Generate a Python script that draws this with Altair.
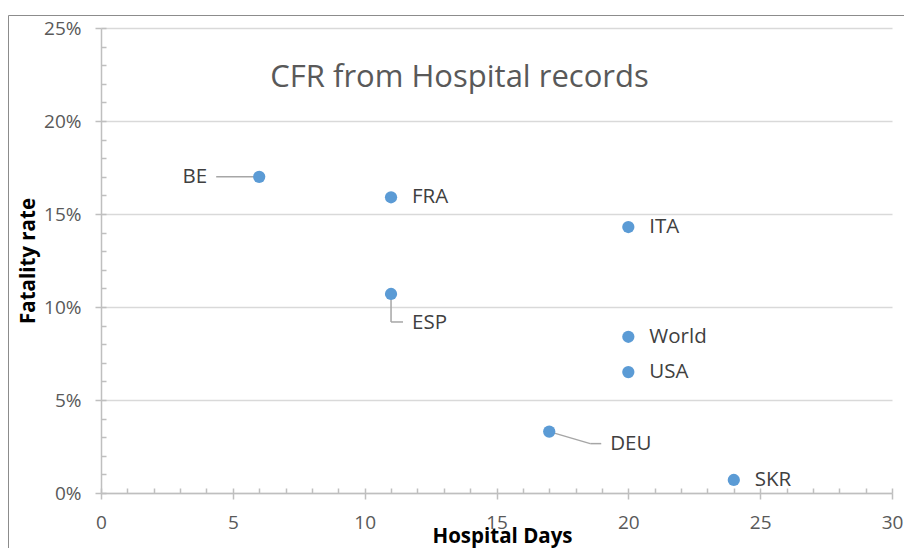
import altair as alt
import pandas as pd

countries = ["BE", "FRA", "ITA", "ESP", "World", "USA", "DEU", "SKR"]
hospital_days = [6, 11, 20, 11, 20, 20, 17, 24]
fatality_rate = [0.170, 0.159, 0.143, 0.107, 0.084, 0.065, 0.033, 0.007]
x_major = [0, 5, 10, 15, 20, 25, 30]
x_minor = list(range(0, 31))
y_major = [0, 0.05, 0.10, 0.15, 0.20, 0.25]
y_minor = [i / 100 for i in range(0, 26)]
chart_title = ["CFR from Hospital records"]

df = pd.DataFrame({"country": countries, "days": hospital_days, "cfr": fatality_rate})
title_df = pd.DataFrame({"t": chart_title})
frame_df = pd.DataFrame({"k": [0]})

FONT = "Open Sans"
AX = "#BFBFBF"
LAB = "#595959"
DL = "#404040"
LEAD = "#A6A6A6"

xs = alt.Scale(domain=[0, 30], nice=False, zero=False)
ys = alt.Scale(domain=[0, 0.25], nice=False, zero=False)

base = alt.Chart(df)

x_axis = alt.Axis(orient="bottom", values=x_major, grid=False, domainColor=AX, domainWidth=1.5,
                  tickColor=AX, tickWidth=1.5, tickSize=6, labelFont=FONT,
                  labelFontSize=19, labelColor=LAB, labelPadding=14, labelFlush=False,
                  title="Hospital Days", titleFont=FONT, titleFontSize=20.5,
                  titleFontWeight="bold", titleColor="#000000",
                  titleBaseline="alphabetic", titleX=401, titleY=49)
y_axis = alt.Axis(orient="left", values=y_major, format=".0%", grid=True, gridColor="#D9D9D9",
                  gridWidth=1.5, domainColor=AX, domainWidth=1.5, tickColor=AX,
                  tickWidth=1.5, tickSize=6, labelFont=FONT, labelFontSize=19,
                  labelColor=LAB, labelPadding=14, labelFlush=False, title="Fatality rate",
                  titleFont=FONT, titleFontSize=20.5, titleFontWeight="bold",
                  titleColor="#000000", titleBaseline="alphabetic",
                  titleAngle=270, titleX=-67, titleY=232.5, titleAlign="center")

x_minor_axis = alt.Axis(values=x_minor, orient="bottom", offset=-5, grid=False,
                        domain=False, labels=False, tickColor=AX, tickWidth=1.5,
                        tickSize=5, title=None)
y_minor_axis = alt.Axis(values=y_minor, orient="left", offset=-5, grid=False,
                        domain=False, labels=False, tickColor=AX, tickWidth=1.5,
                        tickSize=5, title=None)

frame = alt.Chart(frame_df).mark_rect(filled=False, stroke="#8C8C8C", strokeWidth=1).encode(
    x=alt.value(-92.5), x2=alt.value(830), y=alt.value(-12.5), y2=alt.value(540))

minor = base.mark_point(opacity=0).encode(
    x=alt.X("days:Q", scale=xs, axis=x_minor_axis),
    y=alt.Y("cfr:Q", scale=ys, axis=y_minor_axis))

def X():
    return alt.X("days:Q", scale=xs, axis=None)

def Y():
    return alt.Y("cfr:Q", scale=ys, axis=None)

lead_kw = dict(color=LEAD, strokeWidth=1.5)

be = base.transform_filter(alt.datum.country == "BE")
esp = base.transform_filter(alt.datum.country == "ESP")
deu = base.transform_filter(alt.datum.country == "DEU")

be_lead = be.mark_rule(x2Offset=-43, **lead_kw).encode(x=X(), x2="days:Q", y=Y())
esp_lead1 = esp.mark_rule(y2Offset=28, **lead_kw).encode(x=X(), y=Y(), y2="cfr:Q")
esp_lead2 = esp.mark_rule(yOffset=28, x2Offset=12, **lead_kw).encode(x=X(), x2="days:Q", y=Y())
deu_lead1 = deu.mark_rule(x2Offset=41, y2Offset=12, **lead_kw).encode(
    x=X(), x2="days:Q", y=Y(), y2="cfr:Q")
deu_lead2 = deu.mark_rule(xOffset=41, x2Offset=52, yOffset=12, **lead_kw).encode(
    x=X(), x2="days:Q", y=Y())

points = base.mark_circle(size=150, color="#5B9BD5", opacity=1).encode(
    x=alt.X("days:Q", scale=xs, axis=x_axis),
    y=alt.Y("cfr:Q", scale=ys, axis=y_axis))

txt_kw = dict(font=FONT, fontSize=20.5, color=DL, baseline="middle")
plain = base.transform_filter(
    alt.FieldOneOfPredicate(field="country", oneOf=["FRA", "ITA", "World", "USA", "SKR"]))
plain_lbl = plain.mark_text(align="left", dx=21, **txt_kw).encode(x=X(), y=Y(), text="country:N")
be_lbl = be.mark_text(align="right", dx=-52, **txt_kw).encode(x=X(), y=Y(), text="country:N")
esp_lbl = esp.mark_text(align="left", dx=21, dy=29, **txt_kw).encode(x=X(), y=Y(), text="country:N")
deu_lbl = deu.mark_text(align="left", dx=61, dy=12, **txt_kw).encode(x=X(), y=Y(), text="country:N")

title = alt.Chart(title_df).mark_text(font=FONT, fontSize=31, color=LAB, align="center",
                                      baseline="alphabetic").encode(
    x=alt.value(358.5), y=alt.value(59), text="t:N")

chart = alt.layer(
    frame, minor, be_lead, esp_lead1, esp_lead2, deu_lead1, deu_lead2,
    points, plain_lbl, be_lbl, esp_lbl, deu_lbl, title
).resolve_axis(x="independent", y="independent").properties(
    width=791, height=465, autosize="none",
    padding={"left": 93, "top": 20, "right": 12, "bottom": 55},
    background="#FFFFFF"
).configure_view(stroke="transparent")

chart.save("out.html", embed_options={"renderer": "svg", "actions": False})
